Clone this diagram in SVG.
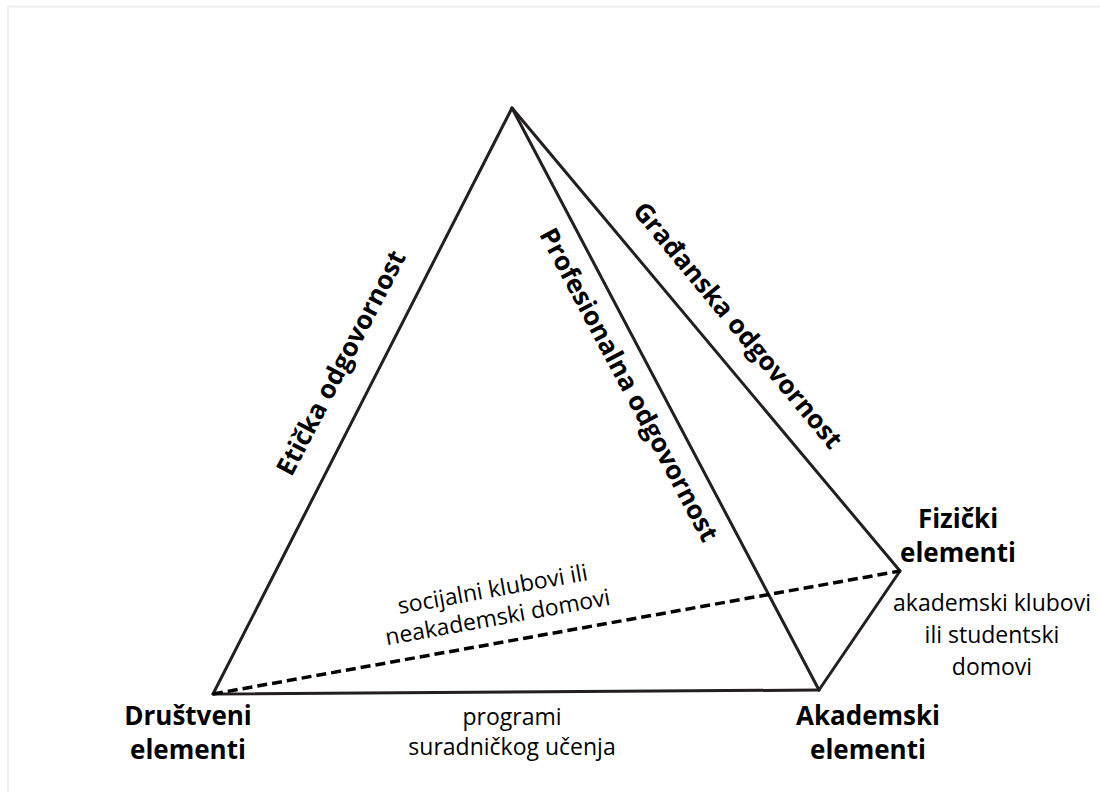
<svg xmlns="http://www.w3.org/2000/svg" width="1100" height="792" viewBox="0 0 1100 792">
<style>
.edge{stroke:#231f20;stroke-width:3;fill:none;stroke-linejoin:round;stroke-linecap:round}
.dash{stroke:#000;stroke-width:3.5;fill:none;stroke-dasharray:10 5}
.b{font-family:"Open Sans","Liberation Sans",sans-serif;font-weight:bold;font-size:26px;fill:#000;text-anchor:middle}
.r{font-family:"Open Sans","Liberation Sans",sans-serif;font-size:23px;fill:#000;text-anchor:middle}
</style>
<rect x="0" y="0" width="1100" height="792" fill="#fff"/>
<rect x="8" y="6.5" width="1100" height="800" fill="none" stroke="#eeeeee" stroke-width="2"/>
<g id="connectors">
<line class="edge" x1="512" y1="108" x2="213" y2="694"/>
<line class="edge" x1="512" y1="108" x2="819" y2="690"/>
<line class="edge" x1="512" y1="108" x2="900" y2="571"/>
<line class="edge" x1="213" y1="694" x2="819" y2="690"/>
<line class="edge" x1="819" y1="690" x2="900" y2="571"/>
<line class="dash" x1="213" y1="694" x2="900" y2="571"/>
<text class="b" transform="translate(349,367) rotate(-62.5)">Etička odgovornost</text>
<text class="b" transform="translate(621,389) rotate(62)">Profesionalna odgovornost</text>
<text class="b" transform="translate(731,331) rotate(50.3)">Građanska odgovornost</text>
<text class="r" transform="translate(494,597) rotate(-10.2)">socijalni klubovi ili</text>
<text class="r" transform="translate(499,625) rotate(-10.2)">neakademski domovi</text>
<text class="r" x="512" y="725">programi</text>
<text class="r" x="512" y="755">suradničkog učenja</text>
<text class="r" x="992" y="611">akademski klubovi</text>
<text class="r" x="992" y="643">ili studentski</text>
<text class="r" x="992" y="675">domovi</text>
</g>
<g id="node-drustveni">
<text class="b" x="188" y="725">Društveni</text>
<text class="b" x="188" y="759">elementi</text>
</g>
<g id="node-akademski">
<text class="b" x="868" y="725">Akademski</text>
<text class="b" x="868" y="759">elementi</text>
</g>
<g id="node-fizicki">
<text class="b" x="958" y="528">Fizički</text>
<text class="b" x="958" y="562">elementi</text>
</g>
</svg>
